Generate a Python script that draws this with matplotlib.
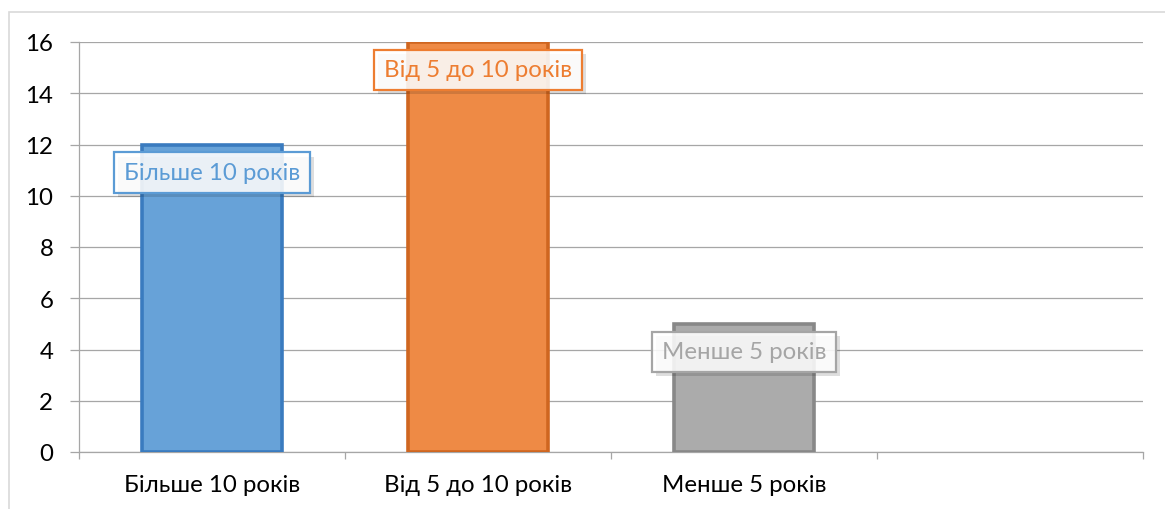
import matplotlib
matplotlib.use("Agg")
import matplotlib.pyplot as plt
import matplotlib.patheffects as pe
from matplotlib.patches import Rectangle

categories = ["Більше 10 років", "Від 5 до 10 років", "Менше 5 років"]
values = [12, 16, 5]
n_slots = 4
yticks = [0, 2, 4, 6, 8, 10, 12, 14, 16]

fill_colors = ["#67a2d8", "#ee8a45", "#ababab"]
edge_colors = ["#3a7bbf", "#cf6620", "#888888"]
text_colors = ["#5b9bd5", "#ed7d31", "#a5a5a5"]

plt.rcParams['font.family'] = ['Lato', 'Open Sans', 'DejaVu Sans']
FS = 17.3

W, H = 1165, 510
fig = plt.figure(figsize=(W / 100, H / 100), dpi=100)
ax = fig.add_axes([79 / W, (H - 453) / H, (1143 - 79) / W, (453 - 43) / H])

# figure border (light gray), cropped on right/bottom
fig.patches.append(Rectangle((9 / W, -0.1), 1.2, (H - 13) / H + 0.1,
                             transform=fig.transFigure, fill=False,
                             edgecolor="#d9d9d9", linewidth=1.2, zorder=0))

x = list(range(len(categories)))
bars = ax.bar(x, values, width=0.53, color=fill_colors,
              edgecolor=edge_colors, linewidth=2.6, zorder=3)

ax.set_xlim(-0.5, n_slots - 0.5)
ax.set_ylim(0, 16)
ax.set_yticks(yticks)
ax.set_yticklabels([str(v) for v in yticks], fontsize=FS)
ax.yaxis.grid(True, color="#a6a6a6", linewidth=0.9, zorder=0)
ax.set_axisbelow(True)

ax.set_xticks(x)
ax.set_xticklabels(categories, fontsize=FS)
ax.set_xticks([i - 0.5 for i in range(n_slots + 1)], minor=True)
ax.tick_params(axis='x', which='major', length=0, pad=15.5)
ax.tick_params(axis='x', which='minor', length=5, color="#a6a6a6", width=0.9)
ax.tick_params(axis='y', length=6.5, color="#a6a6a6", width=0.9, pad=12)

for s in ["top", "right"]:
    ax.spines[s].set_visible(False)
for s in ["left", "bottom"]:
    ax.spines[s].set_color("#a6a6a6")
    ax.spines[s].set_linewidth(0.9)

for i, (cat, v) in enumerate(zip(categories, values)):
    t = ax.annotate(cat, xy=(i, v), xytext=(0, -28), textcoords="offset pixels",
                    ha="center", va="center", fontsize=FS, color=text_colors[i],
                    zorder=5,
                    bbox=dict(boxstyle="square,pad=0.4", facecolor=(1, 1, 1, 0.88),
                              edgecolor=text_colors[i], linewidth=1.6))
    t.get_bbox_patch().set_path_effects([
        pe.SimplePatchShadow(offset=(3, -3), shadow_rgbFace="#000000", alpha=0.13),
        pe.Normal()])

fig.savefig("out.png", dpi=100)
